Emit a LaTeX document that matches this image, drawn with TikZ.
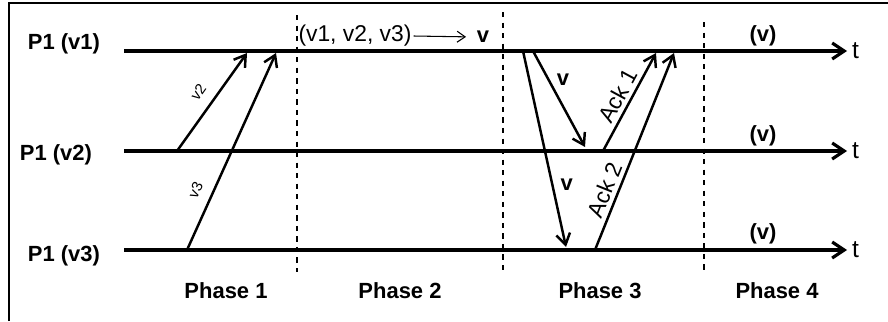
\documentclass[tikz,border=0pt]{standalone}
\usepackage{fontspec}
\setmainfont{Liberation Sans}
\usetikzlibrary{arrows.meta,positioning}

\begin{document}
\begin{tikzpicture}[
    x=0.02cm, y=-0.02cm,
    proc/.style={font=\fontsize{12.5}{15}\selectfont\bfseries},
    phase/.style={font=\fontsize{12.5}{15}\selectfont\bfseries},
    value/.style={font=\fontsize{12.5}{15}\selectfont\bfseries, inner sep=1pt},
    tlabel/.style={font=\fontsize{14}{16}\selectfont, inner sep=2pt},
    small/.style={font=\fontsize{8.5}{10}\selectfont, inner sep=1pt},
    ack/.style={font=\fontsize{13}{15}\selectfont, inner sep=2pt},
    timeline/.style={line width=1.8pt, -{Straight Barb[length=2.4mm,width=3.2mm]}},
    msg/.style={line width=1.4pt, -{Straight Barb[length=2.2mm,width=2.8mm]}},
    border/.style={dashed, line width=0.8pt}
]
\useasboundingbox (0,0) rectangle (888,321);
\draw[line width=1pt] (9,321) -- (9,3) -- (888,3);

% time lines
\node[proc] (p1) at (64,44) {P1 (v1)};
\node[proc] (p2) at (56,155) {P1 (v2)};
\node[proc] (p3) at (64,256) {P1 (v3)};
\coordinate (l1s) at (124,51);
\coordinate (l1e) at (847,51);
\coordinate (l2s) at (124,151);
\coordinate (l2e) at (847,151);
\coordinate (l3s) at (124,250);
\coordinate (l3e) at (847,250);
\draw[timeline] (l1s) -- (l1e) node[tlabel, right] (t1) {t};
\draw[timeline] (l2s) -- (l2e) node[tlabel, right] (t2) {t};
\draw[timeline] (l3s) -- (l3e) node[tlabel, right] (t3) {t};

% phase borders
\coordinate (b1t) at (297,15);
\coordinate (b1b) at (297,272);
\coordinate (b2t) at (503,12);
\coordinate (b2b) at (503,272);
\coordinate (b3t) at (704,22);
\coordinate (b3b) at (704,272);
\draw[border] (b1t) -- (b1b);
\draw[border] (b2t) -- (b2b);
\draw[border] (b3t) -- (b3b);

\node[phase] (ph1) at (226,291) {Phase 1};
\node[phase] (ph2) at (400,291) {Phase 2};
\node[phase] (ph3) at (600,291) {Phase 3};
\node[phase] (ph4) at (777,291) {Phase 4};

% phase 1
\coordinate (s2) at (177,151);
\coordinate (r2) at (247,53);
\coordinate (s3) at (187,250);
\coordinate (r3) at (276,53);
\draw[msg] (s2) -- node[small, sloped, above=5pt, pos=0.5] (lv2) {v2} (r2);
\draw[msg] (s3) -- node[small, sloped, above=5pt, pos=0.27] (lv3) {v3} (r3);

% phase 2
\node[font=\fontsize{13}{15}\selectfont, inner sep=1pt] (all) at (355,36) {(v1, v2, v3)};
\node[value] (dec) at (483,37) {v};
\draw[line width=0.6pt, -{Straight Barb[length=1.6mm,width=2.2mm]}, shorten >=5pt] (all.east) -- (dec.west);

% phase 3
\coordinate (sa) at (523,51);
\coordinate (ra) at (566,247);
\coordinate (sb) at (533,51);
\coordinate (rb) at (585,147);
\draw[msg] (sa) -- node[value, right=3pt, pos=0.68] (la) {v} (ra);
\draw[msg] (sb) -- node[value, right=3pt, pos=0.3] (lb) {v} (rb);
\coordinate (k1s) at (603,151);
\coordinate (k1e) at (656,53);
\coordinate (k2s) at (595,250);
\coordinate (k2e) at (674,53);
\draw[msg] (k1s) -- node[ack, sloped, above, pos=0.5] (lk1) {Ack 1} (k1e);
\draw[msg] (k2s) -- node[ack, sloped, above, pos=0.28] (lk2) {Ack 2} (k2e);

% phase 4
\node[value] (d1) at (763,36) {(v)};
\node[value] (d2) at (763,136) {(v)};
\node[value] (d3) at (763,234) {(v)};
\end{tikzpicture}
\end{document}
